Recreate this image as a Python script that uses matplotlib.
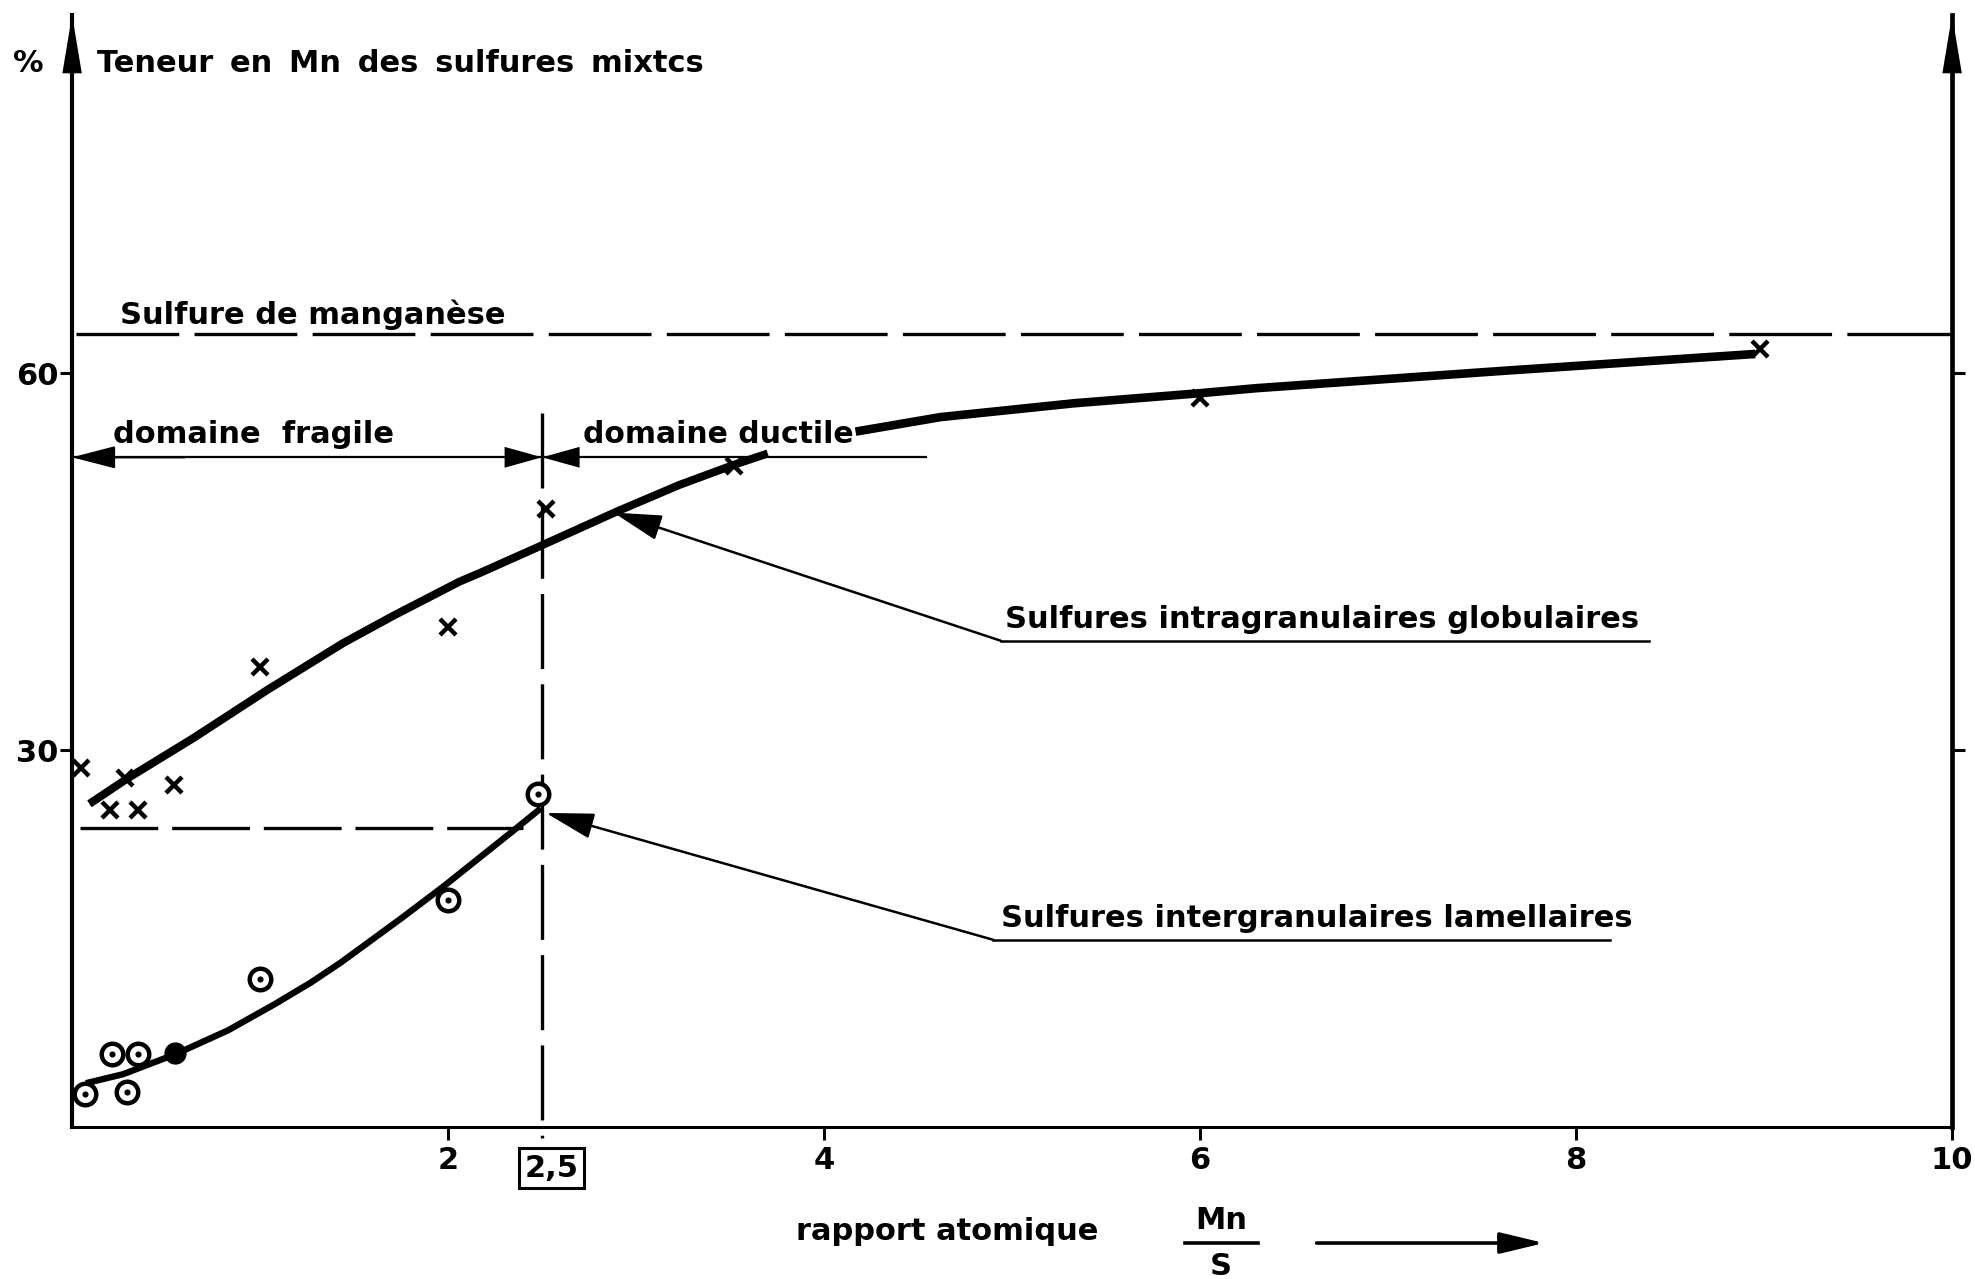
import numpy as np
import matplotlib
matplotlib.use("Agg")
import matplotlib.pyplot as plt

# points mesurés : rapport atomique Mn/S -> teneur en Mn (%) des sulfures mixtes
glob_x = [0.05, 0.20, 0.28, 0.35, 0.54, 1.0, 2.0, 2.52, 3.52, 6.0, 8.98]
glob_y = [28.6, 25.2, 27.8, 25.2, 27.2, 36.6, 39.8, 49.2, 52.6, 58.0, 61.9]
lam_x = [0.07, 0.21, 0.29, 0.35, 1.0, 2.0, 2.48]
lam_y = [2.6, 5.8, 2.75, 5.8, 11.8, 18.1, 26.5]
lam_full_x = [0.55]
lam_full_y = [5.9]

# courbes tracées à la main (globulaires : deux tronçons, coupés par le texte)
glob_lo_x = [0.11, 0.29, 0.65, 1.04, 1.44, 1.71, 2.06, 2.17, 2.47, 2.90, 3.23, 3.52, 3.68]
glob_lo_y = [25.9, 27.7, 31.0, 34.8, 38.5, 40.7, 43.4, 44.1, 46.1, 49.0, 51.1, 52.7, 53.5]
glob_hi_x = [4.19, 4.62, 5.33, 6.0, 6.3, 7.63, 8.93]
glob_hi_y = [55.4, 56.5, 57.6, 58.4, 58.8, 60.2, 61.5]
lam_curve_x = [0.09, 0.27, 0.55, 0.83, 1.08, 1.27, 1.43, 1.75, 1.98, 2.34, 2.48]
lam_curve_y = [3.55, 4.2, 5.8, 7.7, 9.8, 11.5, 13.1, 16.6, 19.2, 23.5, 25.2]

mns_level = 63.1      # sulfure de manganèse
lam_level = 23.8      # palier lamellaires
ratio_limit = 2.5     # limite fragile / ductile
domain_y = 53.3

xticks = [2, 4, 6, 8, 10]
yticks = [30, 60]

plt.rcParams['font.family'] = 'DejaVu Sans'
plt.rcParams['font.weight'] = 'bold'
plt.rcParams['lines.scale_dashes'] = False
FS = 22
SP = " \u2009"   # espacement large entre les mots

fig = plt.figure(figsize=(19.75, 12.79), dpi=100)
ax = fig.add_axes([0.0365, 0.1188, 0.9519, 0.8695])
ax.set_xlim(0, 10)
ax.set_ylim(0, 88.5)

ax.spines["top"].set_visible(False)
ax.spines["left"].set_linewidth(3.0)
ax.spines["right"].set_linewidth(3.4)
ax.spines["bottom"].set_linewidth(2.2)

ax.set_xticks(xticks)
ax.set_xticklabels([str(t) for t in xticks])
ax.set_yticks(yticks)
ax.set_yticklabels([str(t) for t in yticks])
ax.tick_params(axis="both", direction="out", length=9, width=2.2, labelsize=FS, pad=5)
ax.tick_params(axis="y", right=True, labelright=False, pad=1)
for lbl in ax.get_xticklabels() + ax.get_yticklabels():
    lbl.set_fontweight("bold")


def arrow(tail, head, hl=27, hw=6.5, lw=1.6):
    ax.annotate("", xy=head, xytext=tail,
                arrowprops=dict(arrowstyle=f"-|>,head_length={hl},head_width={hw}",
                                lw=lw, color="k", shrinkA=0, shrinkB=0,
                                mutation_scale=1),
                annotation_clip=False)


# flèches en haut des axes verticaux
arrow((0, 80), (0, 88.5), hl=42, hw=7, lw=0)
arrow((10, 80), (10, 88.5), hl=42, hw=7, lw=0)

# lignes de référence
ax.hlines(mns_level, 0.02, 10, colors="k", lw=2.4, linestyles=[(0, (74, 11))])
ax.hlines(lam_level, 0.04, 2.4, colors="k", lw=2.4, linestyles=[(0, (56, 10))])
ax.plot([ratio_limit, ratio_limit], [56.8, -0.9], color="k", lw=2.4,
        ls=(0, (54, 11)), clip_on=False)

# domaines fragile / ductile
ax.hlines(domain_y, 0, 4.55, colors="k", lw=1.6)
arrow((0.6, domain_y), (0, domain_y), hw=7)
arrow((2.0, domain_y), (ratio_limit, domain_y), hw=7.5, lw=0)
arrow((3.0, domain_y), (ratio_limit, domain_y), hw=7.5, lw=0)
ax.text(0.22, 54.4, "domaine  fragile", fontsize=FS, va="baseline", ha="left")
ax.text(2.72, 54.4, "domaine ductile", fontsize=21.5, va="baseline", ha="left")
ax.text(0.255, 63.9, "Sulfure de manganèse", fontsize=FS, va="baseline", ha="left")

# courbes
ax.plot(glob_lo_x, glob_lo_y, color="k", lw=5.8, solid_joinstyle="round")
ax.plot(glob_hi_x, glob_hi_y, color="k", lw=6.2, solid_joinstyle="round")
ax.plot(lam_curve_x, lam_curve_y, color="k", lw=4.6, solid_joinstyle="round")

# points
ax.plot(glob_x, glob_y, ls="none", marker="x", ms=11, mew=3.2, color="k", clip_on=False)
ax.plot(lam_x, lam_y, ls="none", marker="o", ms=15.5, mew=3.2, mfc="white", mec="k",
        clip_on=False)
ax.plot(lam_x, lam_y, ls="none", marker="o", ms=3.4, color="k")
ax.plot(lam_full_x, lam_full_y, ls="none", marker="o", ms=15, color="k")

# annotations
ax.plot([4.94, 8.39], [38.7, 38.7], color="k", lw=1.8)
arrow((4.94, 38.7), (2.88, 48.9), hl=30, hw=8, lw=1.8)
ax.text(4.96, 39.7, "Sulfures intragranulaires globulaires", fontsize=FS,
        va="baseline", ha="left")
ax.plot([4.90, 8.18], [14.9, 14.9], color="k", lw=1.8)
arrow((4.90, 14.9), (2.52, 25.0), hl=30, hw=8, lw=1.8)
ax.text(4.94, 15.9, "Sulfures intergranulaires lamellaires", fontsize=FS,
        va="baseline", ha="left")

# titre de l'axe vertical
ax.text(-0.234, 84.6, "%", fontsize=FS, ha="center", va="center")
ax.text(0.133, 84.6, SP.join(["Teneur", "en", "Mn", "des", "sulfures", "mixtcs"]),
        fontsize=FS, ha="left", va="center")

# valeur limite encadrée
ax.text(2.55, -3.26, "2,5", fontsize=FS, ha="center", va="center",
        bbox=dict(boxstyle="square,pad=0.18", fc="white", ec="k", lw=2.2))

# titre de l'axe horizontal
ax.text(3.85, -8.35, "rapport atomique", fontsize=FS, ha="left", va="center")
ax.text(6.11, -7.45, "Mn", fontsize=FS, ha="center", va="center")
ax.text(6.11, -11.1, "S", fontsize=FS, ha="center", va="center")
ax.plot([5.92, 6.31], [-9.23, -9.23], color="k", lw=2.6, clip_on=False)
arrow((6.62, -9.23), (7.83, -9.23), hl=27, hw=6.5, lw=2.6)

fig.savefig("out.png", dpi=100)
